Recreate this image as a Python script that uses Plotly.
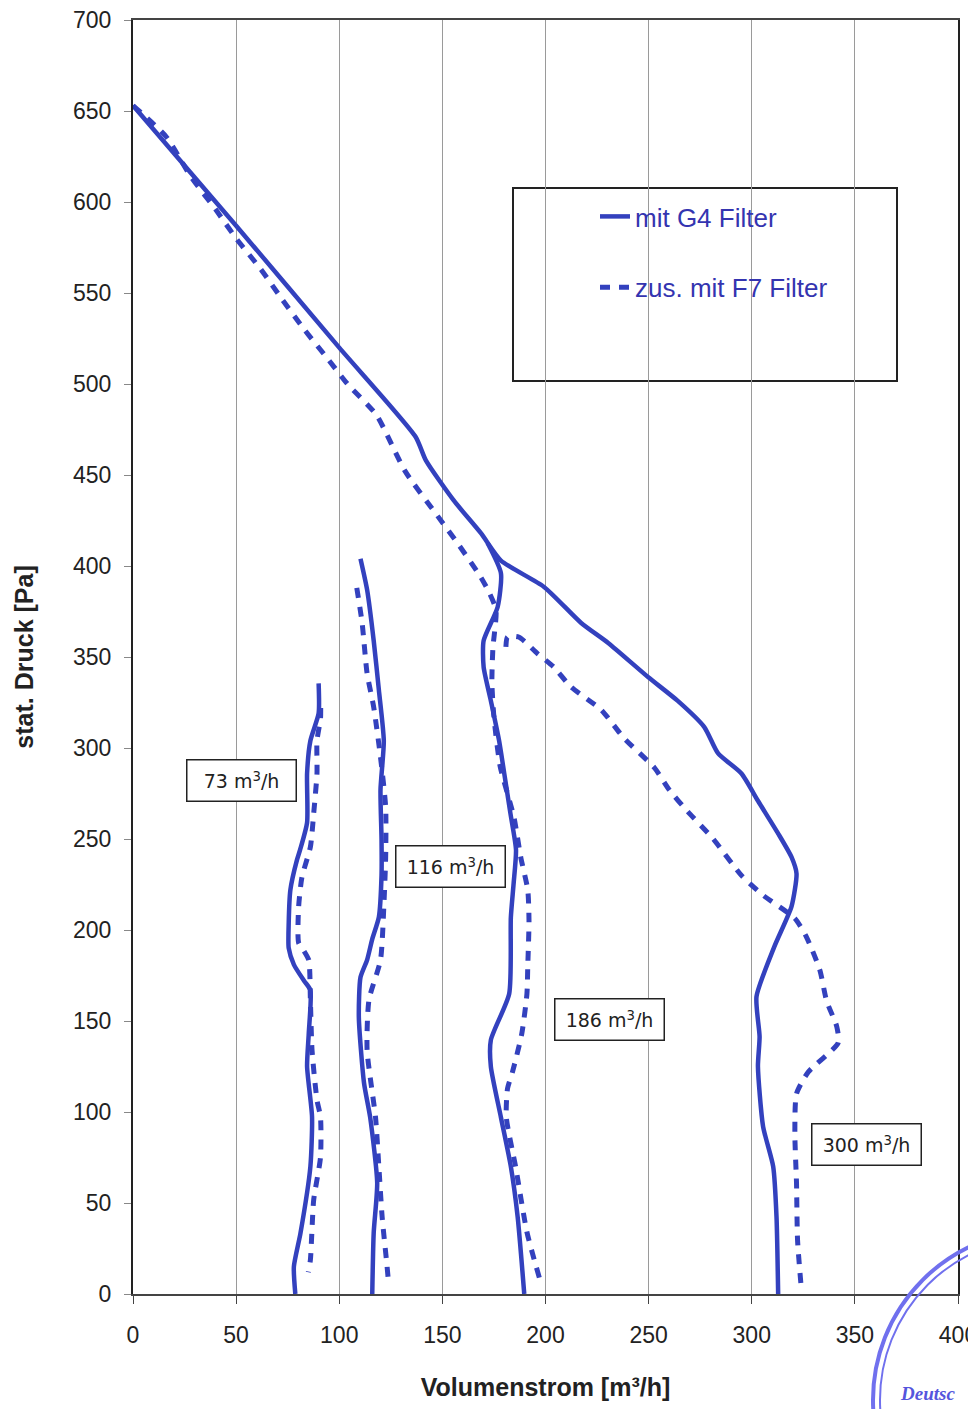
import plotly.graph_objects as go

# ---- data (Volumenstrom m3/h, stat. Druck Pa) ----
g4_main_x = [0, 50, 100, 137, 142, 155.5, 168.7, 178.4, 199.3, 217.3, 230.4, 249.7, 264, 277, 283.7, 295, 303, 312.8, 319.3, 321.7, 319.3, 311, 302.3, 303.8, 303, 305.5, 310.4, 312, 312.8]
g4_main_y = [653, 587, 520, 471, 458, 436, 418, 403, 388.5, 368.7, 357.7, 339, 326, 311.5, 297, 286, 271, 253, 240, 231, 213, 191, 163.4, 141.4, 125, 92, 70, 42.5, 0]

g4_186_x = [171.9, 178.4, 176.8, 170, 170, 173.5, 177.5, 180, 183, 185.7, 184.5, 183.2, 182.4, 173.5, 173.5, 178.4, 183.2, 186.5, 189.7]
g4_186_y = [412.6, 396, 377.5, 359, 344.5, 326, 304, 286, 264, 244, 225, 207, 165, 139.5, 125, 97, 70, 42.3, 0]

g4_116_x = [110.3, 113.5, 116.7, 119.2, 121.6, 120, 120.5, 120.5, 119.2, 116, 113.5, 110.3, 109.5, 112, 115, 118.4, 116.7, 116]
g4_116_y = [404, 387, 359, 332, 304, 277, 250, 230, 207, 195, 183.5, 174, 152, 116, 97, 61, 33.5, 0]

g4_73_x = [90, 90, 86, 84.4, 84.4, 81, 79.5, 76.3, 75.5, 75.5, 78, 83, 86, 85.2, 84.4, 86.8, 86, 81.2, 78, 78.7]
g4_73_y = [335.5, 319, 304, 286, 259, 244, 238.5, 222, 204, 190, 181, 172, 167, 143, 125, 97.4, 70, 33.4, 15, 0]

f7_main_x = [0, 16, 28, 40, 50, 62, 72, 83, 95, 104, 118, 132, 148, 158, 168, 172, 176, 174.5, 174, 175, 178, 184.7, 188, 191.4, 192, 191.4, 191, 188.5, 184, 181.6, 181, 185.5, 191, 197]
f7_main_y = [653, 636, 614, 596, 580, 563, 547, 530, 513, 500, 483, 452, 427, 411.5, 395, 387, 376, 355, 336, 317, 290, 262, 240, 222, 205, 180, 165, 143, 122, 113, 97, 70, 34, 9]

f7_300_x = [180.8, 181.6, 187, 196, 204, 212.4, 227, 238, 252.9, 260, 269, 281, 295, 305.6, 320.9, 326.6, 333, 336.3, 341.2, 341.9, 327.4, 321.7, 320.9, 321.7, 322.2, 323.8]
f7_300_y = [355.5, 361, 361, 352, 344.5, 333.5, 321, 305.5, 289, 277, 265, 250.5, 230, 219, 206.4, 196, 178, 161, 147, 138, 122, 110, 88, 61, 29.7, 6]

f7_116_x = [108.5, 111.1, 113.5, 116.7, 120, 122.5, 122.5, 121.6, 120, 114.4, 113.5, 117.6, 119.2, 120.8, 123.2, 124]
f7_116_y = [388, 368.7, 341, 322.5, 295, 267.6, 240, 212.6, 183.5, 161.5, 134, 97, 70, 42.3, 15, 5]

f7_73_x = [91, 90.9, 89.2, 89.2, 87.6, 86, 81.9, 80.3, 80.3, 82.6, 85.2, 86, 86.8, 89.2, 90.9, 90.9, 87.6, 86, 85]
f7_73_y = [322, 316, 304, 286, 264, 245.6, 229, 212.6, 193, 189, 183.5, 161.5, 134, 106.6, 97.3, 75, 51.6, 18.7, 12]

flow_labels = ["73 m<sup>3</sup>/h", "116 m<sup>3</sup>/h", "186 m<sup>3</sup>/h", "300 m<sup>3</sup>/h"]
flow_label_x = [52.5, 153.8, 230.9, 355.8]
flow_label_y = [282, 235, 151, 82]

series_names = ["mit G4 Filter", "zus. mit F7 Filter"]
x_ticks = [0, 50, 100, 150, 200, 250, 300, 350, 400]
y_ticks = [0, 50, 100, 150, 200, 250, 300, 350, 400, 450, 500, 550, 600, 650, 700]

LINE = "#3341BE"
TXT_BLUE = "#3434B0"

fig = go.Figure()

solid_sets = [(g4_main_x, g4_main_y), (g4_186_x, g4_186_y), (g4_116_x, g4_116_y), (g4_73_x, g4_73_y)]
dash_sets = [(f7_main_x, f7_main_y), (f7_300_x, f7_300_y), (f7_116_x, f7_116_y), (f7_73_x, f7_73_y)]

for i, (xs, ys) in enumerate(solid_sets):
    fig.add_trace(go.Scatter(x=xs, y=ys, mode="lines", name=series_names[0],
                             legendgroup="g4", showlegend=(i == 0),
                             line=dict(color=LINE, width=4.5, shape="spline", smoothing=0.6)))
for i, (xs, ys) in enumerate(dash_sets):
    fig.add_trace(go.Scatter(x=xs, y=ys, mode="lines", name=series_names[1],
                             legendgroup="f7", showlegend=(i == 0),
                             line=dict(color=LINE, width=5, dash="10px,9px", shape="spline", smoothing=0.6)))

for t, lx, ly in zip(flow_labels, flow_label_x, flow_label_y):
    fig.add_annotation(x=lx, y=ly, xref="x", yref="y", text=t, showarrow=False,
                       font=dict(family="DejaVu Sans", size=19, color="#222"),
                       bgcolor="white", bordercolor="#222", borderwidth=1.5,
                       width=104, height=36, borderpad=2)

# screen-pixel helpers (plot area: x 133..958, y 20..1294 in the page)
def px_x(p):
    return (p - 133) / 825

def px_y(p):
    return (1294 - p) / 1274

# legend frame
fig.add_shape(type="rect", xref="paper", yref="paper",
              x0=px_x(513), x1=px_x(897), y0=px_y(381), y1=px_y(188),
              line=dict(color="#222", width=2), fillcolor="white", layer="below")

# stamp (partially visible, bottom right)
cx, cy, r = 1043, 1400, 170
fig.add_shape(type="circle", xref="paper", yref="paper",
              x0=px_x(cx - r), x1=px_x(cx + r), y0=px_y(cy + r), y1=px_y(cy - r),
              line=dict(color="#7070EE", width=4))
r2 = 163
fig.add_shape(type="circle", xref="paper", yref="paper",
              x0=px_x(cx - r2), x1=px_x(cx + r2), y0=px_y(cy + r2), y1=px_y(cy - r2),
              line=dict(color="#7070EE", width=2))
fig.add_annotation(xref="paper", yref="paper", x=px_x(898), y=px_y(1393),
                   xanchor="left", yanchor="middle", text="<b><i>Deutsc</i></b>", showarrow=False,
                   font=dict(family="Liberation Serif", size=19, color="#5555DD"))

# page body has an 8px margin, so the figure is 8px smaller than the window
fig.update_layout(
    width=968, height=1401,
    margin=dict(l=125, r=18, t=12, b=115, autoexpand=False),
    paper_bgcolor="white", plot_bgcolor="white",
    font=dict(family="Liberation Sans", color="#222"),
    showlegend=True,
    legend=dict(x=px_x(595), y=px_y(193), xanchor="left", yanchor="top",
                bgcolor="rgba(0,0,0,0)", borderwidth=0, tracegroupgap=34,
                font=dict(family="Liberation Sans", size=26, color=TXT_BLUE)),
    xaxis=dict(range=[0, 400], tickvals=x_ticks, ticktext=[str(v) for v in x_ticks],
               automargin=False, ticklabeloverflow="allow",
               showgrid=True, gridcolor="#9a9a9a", gridwidth=1, zeroline=False,
               showline=True, linecolor="#444", linewidth=2, mirror=True,
               ticks="outside", ticklen=8, tickcolor="#444", ticklabelstandoff=11,
               tickfont=dict(size=23, color="#222"),
               title=dict(text="<b>Volumenstrom [m³/h]</b>", font=dict(size=25, color="#222"), standoff=32)),
    yaxis=dict(range=[0, 700], tickvals=y_ticks, ticktext=[str(v) for v in y_ticks],
               automargin=False, ticklabeloverflow="allow",
               showgrid=False, zeroline=False,
               showline=True, linecolor="#222", linewidth=2, mirror=True,
               ticks="outside", ticklen=7, tickcolor="#888", ticklabelstandoff=8,
               tickfont=dict(size=23, color="#222"),
               title=dict(text="<b>stat. Druck [Pa]</b>", font=dict(size=25, color="#222"), standoff=32)),
)

fig.write_html("out.html")
